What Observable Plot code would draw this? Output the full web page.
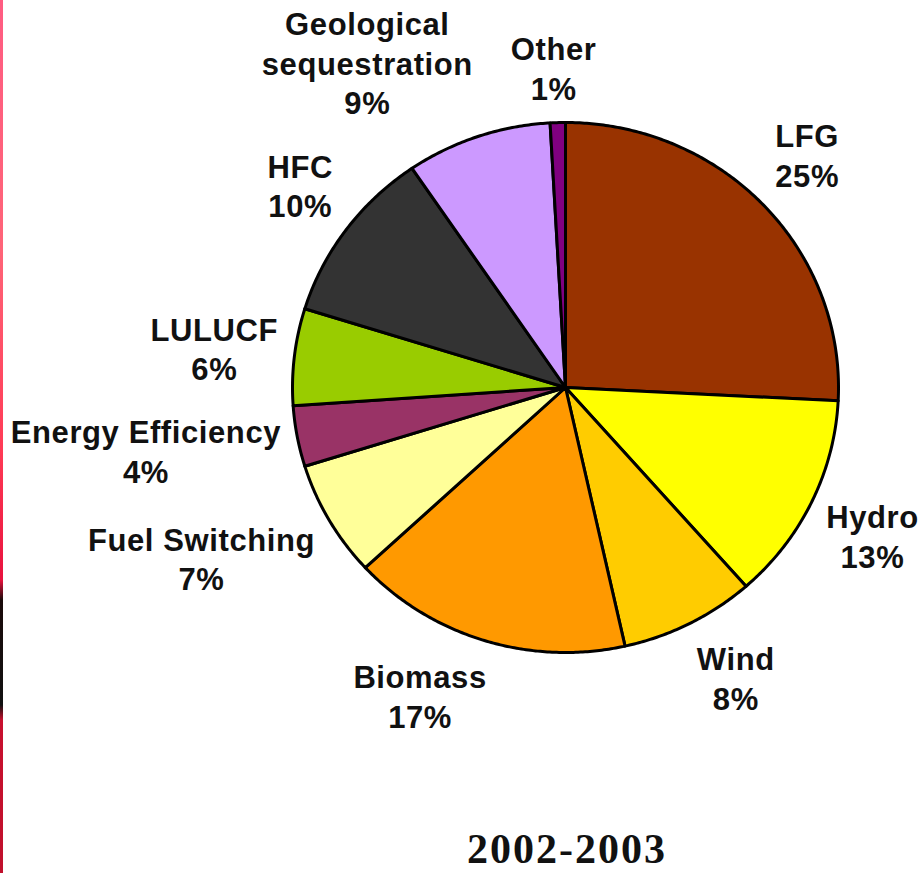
<!DOCTYPE html>
<html><head><meta charset="utf-8">
<script src="https://cdn.jsdelivr.net/npm/d3@7"></script>
<script src="https://cdn.jsdelivr.net/npm/@observablehq/plot@0.6"></script>
<style>
body{margin:0;background:#fff;width:920px;height:873px;position:relative;overflow:hidden}
#strip{position:absolute;left:0;top:0;width:3px;height:873px;
background:linear-gradient(to bottom,#ff5c82 0px,#ff6478 250px,#ff3a55 450px,#e8123e 580px,#1a0a0a 600px,#111 705px,#c8102e 720px,#c0102c 873px)}
#title{position:absolute;left:0;top:830px;width:920px;height:40px;padding-left:214px;box-sizing:border-box;text-align:center;
font:bold 42px "Liberation Serif","Times New Roman",serif;line-height:38px;letter-spacing:2px;color:#111}
#chart svg text{letter-spacing:0.6px}
</style></head><body>
<div id="chart"></div><div id="title"></div><div id="strip"></div>
<script>
const categories = ["LFG","Hydro","Wind","Biomass","Fuel Switching","Energy Efficiency","LULUCF","HFC","Geological sequestration","Other"];
const labelNames = ["LFG","Hydro","Wind","Biomass","Fuel Switching","Energy Efficiency","LULUCF","HFC","Geological\nsequestration","Other"];
const shares = [25.8,12.7,8.0,16.6,7.1,3.7,5.9,10.7,8.6,0.9];
const percentLabels = ["25%","13%","8%","17%","7%","4%","6%","10%","9%","1%"];
const colors = ["#993300","#ffff00","#ffcc00","#ff9900","#ffff99","#993366","#99cc00","#333333","#cc99ff","#800080"];
const title = "2002-2003";

document.getElementById("title").textContent = title;

const W = 920, H = 800, mL = 292, mR = 82, mT = 122, mB = 148;
const rx = (W - mL - mR) / 2, ry = (H - mT - mB) / 2;
const FS = 31, LH = 1.275, LS = 0.6;
const FONT = '"Liberation Sans", Arial, Helvetica, sans-serif';

const arcs = d3.pie().sort(null).value(d => d)(shares);

// slice outlines (unit circle, y up), built from pie angles
const pts = [];
arcs.forEach((a, i) => {
  const name = categories[i];
  pts.push({name, x: 0, y: 0});
  const n = Math.max(2, Math.ceil((a.endAngle - a.startAngle) / (Math.PI / 360)));
  for (let k = 0; k <= n; k++) {
    const t = a.startAngle + (a.endAngle - a.startAngle) * k / n;
    pts.push({name, x: Math.sin(t), y: Math.cos(t)});
  }
  pts.push({name, x: 0, y: 0});
});

// label placement outside each slice
const ctx = document.createElement("canvas").getContext("2d");
ctx.font = `bold ${FS}px ${FONT}`;
const clamp = v => Math.max(-1, Math.min(1, v));
const labels = arcs.map((a, i) => {
  const text = labelNames[i] + "\n" + percentLabels[i];
  const lines = text.split("\n");
  const hw = Math.max(...lines.map(l => ctx.measureText(l).width + LS * l.length)) / 2;
  const hh = lines.length * FS * LH / 2;
  const m = (a.startAngle + a.endAngle) / 2;
  const s = Math.sin(m), c = Math.cos(m);
  const px = mL + rx + 1.06 * s * rx + hw * clamp(3 * s);
  const py = mT + ry - 1.06 * c * ry - hh * clamp(1.5 * c);
  return {text, px, py, hw, hh};
});
// simple collision avoidance: push the outer label horizontally outward
const pad = 38;
for (let i = 0; i < labels.length; i++) for (let j = 0; j < labels.length; j++) {
  if (i === j) continue;
  const A = labels[i], B = labels[j];
  const cx0 = mL + rx;
  if (Math.abs(A.px - cx0) < Math.abs(B.px - cx0)) continue;
  const vOver = Math.abs(A.py - B.py) < A.hh + B.hh;
  const need = A.hw + B.hw + pad - Math.abs(A.px - B.px);
  if (vOver && need > 0) A.px += (A.px < B.px ? -need : need);
}
labels.forEach(l => { l.x = (l.px - mL - rx) / rx; l.y = (mT + ry - l.py) / ry; });

const chart = Plot.plot({
  width: W, height: H,
  marginLeft: mL, marginRight: mR, marginTop: mT, marginBottom: mB,
  x: {domain: [-1, 1], axis: null},
  y: {domain: [-1, 1], axis: null},
  color: {domain: categories, range: colors},
  style: {background: "white", overflow: "visible"},
  marks: [
    Plot.line(pts, {x: "x", y: "y", z: "name", fill: "name", stroke: "black", strokeWidth: 3, strokeLinejoin: "round"}),
    Plot.text(labels, {x: "x", y: "y", text: "text", fontSize: FS, fontWeight: "bold", fontFamily: FONT,
      lineHeight: LH, lineAnchor: "middle", textAnchor: "middle", fill: "#111"})
  ]
});
document.getElementById("chart").appendChild(chart);
</script>
</body></html>
